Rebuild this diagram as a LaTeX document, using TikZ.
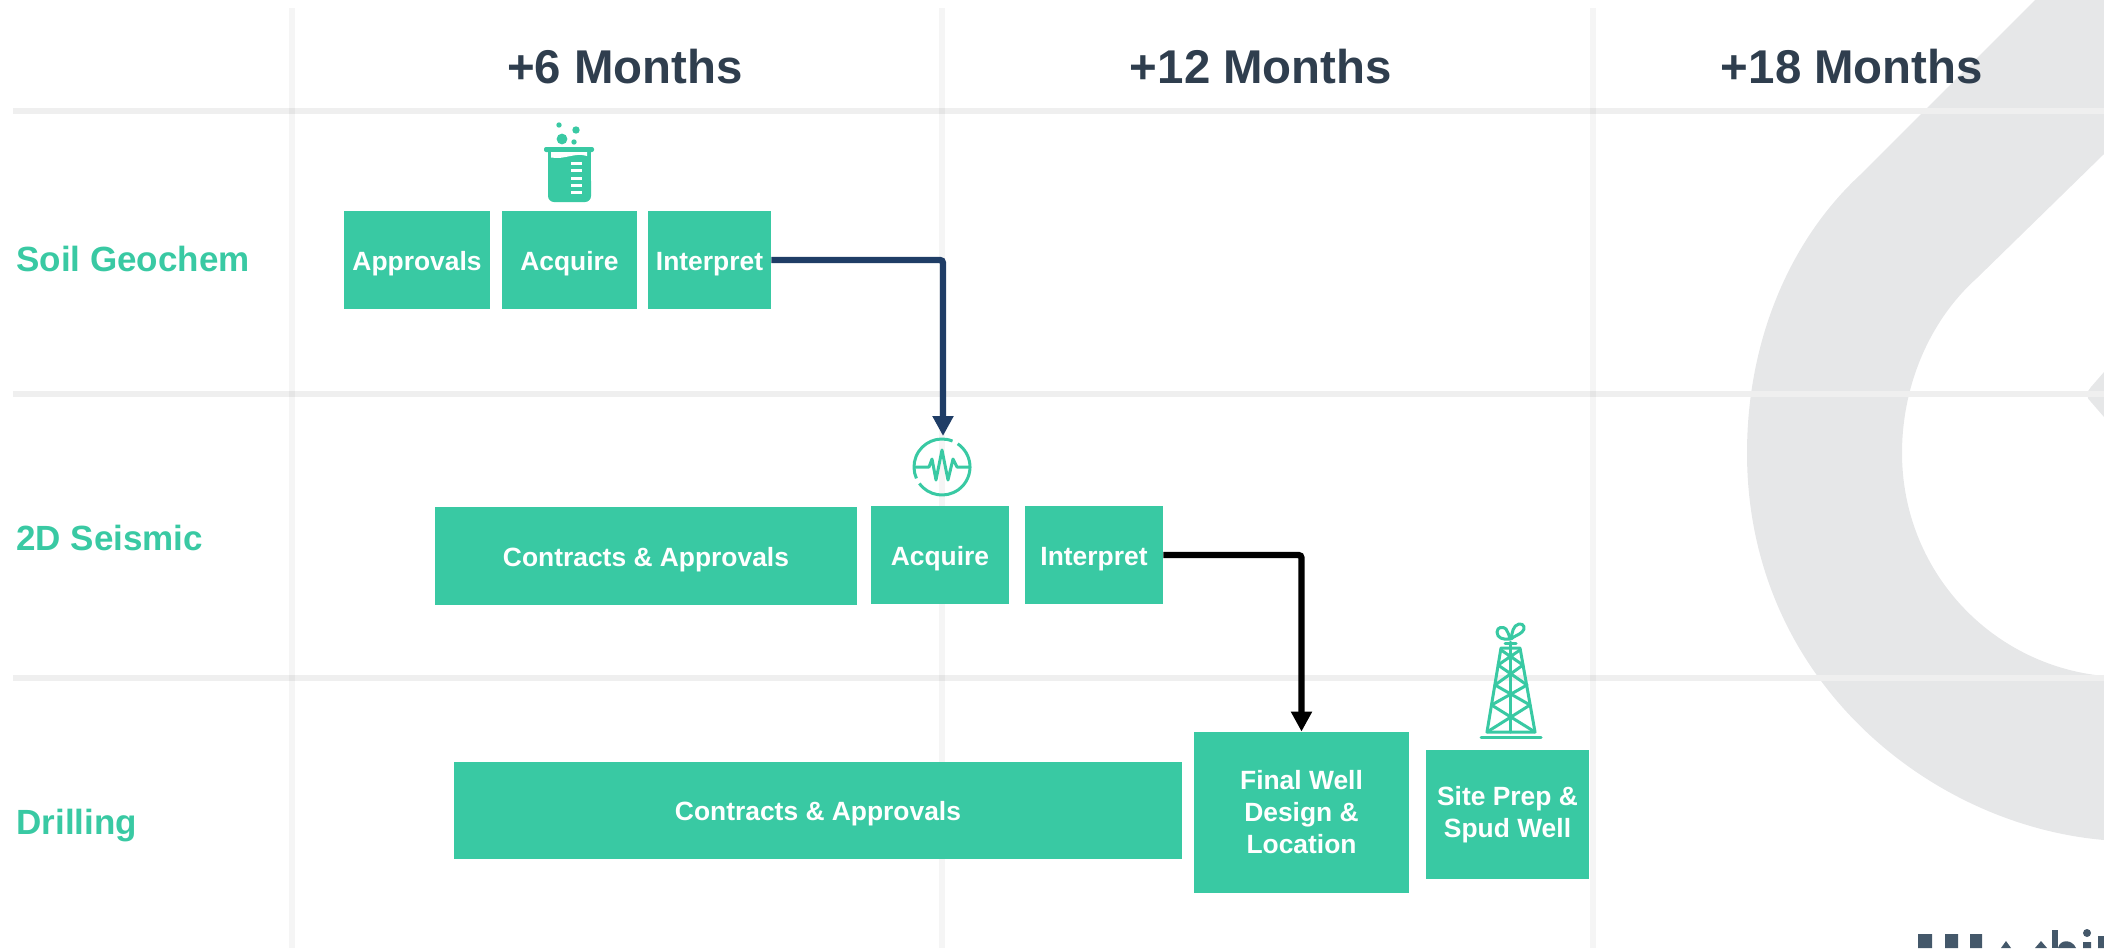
\documentclass[tikz,border=0pt]{standalone}
\usepackage{fontspec}
\setmainfont{Liberation Sans}
\usetikzlibrary{arrows.meta}
\definecolor{teal}{HTML}{39C9A3}
\definecolor{slate}{HTML}{2F3E4E}
\definecolor{logogray}{HTML}{E6E7E8}
\definecolor{gridc}{HTML}{EFEFEF}
\definecolor{navy}{HTML}{1F3D66}
\definecolor{logotext}{HTML}{44586A}
\tikzset{
  x=0.5pt,y=-0.5pt,
  gridh/.style={draw=gridc,line width=3pt},
  gridv/.style={draw=black,opacity=0.04,line width=3pt},
  task/.style={fill=teal,text=white,inner sep=0pt,align=center,
    font=\fontsize{13.2}{16}\selectfont\bfseries},
  oneline/.style={text height=12pt,text depth=1.9pt},
  head/.style={text=slate,font=\fontsize{23.7}{28}\selectfont\bfseries,inner sep=0pt},
  rowlabel/.style={text=teal,anchor=west,font=\fontsize{17.5}{21}\selectfont\bfseries,inner sep=0pt},
  link/.style={line width=3.2pt,-{Triangle[length=10pt,width=10pt]},rounded corners=1.5pt},
  iconline/.style={draw=teal,line width=1.5pt,line cap=round,line join=round},
}
\newcommand{\taskbox}[7][]{% options, name, x0, y0, x1, y1, text
  \pgfmathsetmacro{\tw}{(#5-#3)*0.5}\pgfmathsetmacro{\th}{(#6-#4)*0.5}
  \node[task,#1,minimum width=\tw pt,minimum height=\th pt] (#2) at ({(#3+#5)/2},{(#4+#6)/2}) {#7};}
\begin{document}
\begin{tikzpicture}
\useasboundingbox (0,0) rectangle (2104,948);
% watermark logo
\fill[logogray] (2035,0) -- (1860,175) .. controls (1790,240) and (1747,340) .. (1747,453)
  .. controls (1747,680) and (1930,825) .. (2104,840)
  -- (2104,676) .. controls (1990,665) and (1902,570) .. (1902,453)
  .. controls (1902,385) and (1930,320) .. (1977,278) -- (2104,154) -- (2104,0) -- cycle;
\fill[logogray] (2104,372) -- (2091,387) .. controls (2086,392) and (2086,398) .. (2091,402) -- (2104,417) -- cycle;
% logo fragment
\fill[logotext] (1918,934) rectangle (1932,948) (1945,934) rectangle (1958,948) (1970,934) rectangle (1982,948);
\fill[logotext] (2001,948) -- (2006,941) -- (2011,948) -- cycle (2035,948) -- (2041,941) -- (2047,948) -- cycle;
\fill[logotext] (2052,930) rectangle (2058,948);
\fill[logotext] (2058,948) .. controls (2060,939) and (2072,939) .. (2076,948) -- cycle;
\fill[logotext] (2087,933) circle[radius=2pt] (2083,942) rectangle (2091,948) (2098,936) rectangle (2104,948);
% grid
\foreach \gy in {111,394,678} \draw[gridh] (13,\gy) -- (2104,\gy);
\foreach \gx in {292,942,1593} \draw[gridv] (\gx,8) -- (\gx,948);
% headers
\node[head] (h1) at (625,67) {+6 Months};
\node[head] (h2) at (1261,67) {+12 Months};
\node[head] (h3) at (1852,67) {+18 Months};
\node[rowlabel] (r1) at (16,259) {Soil Geochem};
\node[rowlabel] (r2) at (16,538) {2D Seismic};
\node[rowlabel] (r3) at (16,826) {Drilling};
% tasks
\taskbox[oneline]{a1}{344}{211}{490}{309}{Approvals}
\taskbox[oneline]{a2}{502}{211}{637}{309}{Acquire}
\taskbox[oneline]{a3}{648}{211}{771}{309}{Interpret}
\taskbox[oneline]{b1}{435}{507}{857}{605}{Contracts \& Approvals}
\taskbox[oneline]{b2}{871}{506}{1009}{604}{Acquire}
\taskbox[oneline]{b3}{1025}{506}{1163}{604}{Interpret}
\taskbox[oneline]{c1}{454}{762}{1182}{859}{Contracts \& Approvals}
\taskbox{c2}{1194}{732}{1409}{893}{Final Well\\Design \&\\Location}
\taskbox{c3}{1426}{750}{1589}{879}{Site Prep \&\\Spud Well}
% connectors
\coordinate (seis) at (943,436);
\draw[link,navy] (a3.east) -| (seis);
\draw[link,black] (b3.east) -| (c2.north);
% beaker icon
\fill[teal] (548,150) rectangle (591,190);
\fill[teal,rounded corners=3pt] (548,175) rectangle (591,202);
\fill[teal,rounded corners=1pt] (544,147) rectangle (594,152);
\fill[white] (551,152) -- (587,152) -- (587,156) .. controls (575,152) and (565,160) .. (551,157.5) -- cycle;
\foreach \ty in {162,169,177,184,191} \fill[white] (571,\ty) rectangle (582,{\ty+3.3});
\fill[teal] (562,139) circle[radius=2.7pt] (576,130) circle[radius=1.85pt] (559,125) circle[radius=1.35pt] (574,142) circle[radius=1.35pt];
% seismic icon
\draw[iconline,line cap=butt] ({942+28*cos(68)},{467-28*sin(68)}) arc[start angle=68,end angle=204,radius=14pt];
\draw[iconline,line cap=butt] ({942+28*cos(216)},{467-28*sin(216)}) arc[start angle=216,end angle=416,radius=14pt];
\draw[iconline] (915,467) -- (929,467) -- (932,459) -- (936,480) -- (942,450) -- (948,480) -- (953,459) -- (957,467) -- (970,467);
% derrick icon
\draw[iconline] (1481,737) -- (1541,737);
\draw[iconline] (1487,732) -- (1501,648) -- (1520,648) -- (1535,732) -- cycle;
\draw[iconline] (1510,642) -- (1510,732);
\draw[iconline] (1505,643) -- (1516,643);
\draw[iconline] (1487,732) -- (1530,705) (1535,732) -- (1491.5,705)
  (1491.5,705) -- (1527,685) (1530,705) -- (1495,685)
  (1495,685) -- (1523,665) (1527,685) -- (1498,665)
  (1498,665) -- (1520,650) (1523,665) -- (1501,650);
\draw[iconline] (1510,639) .. controls (1503,640) and (1497,638) .. (1497,632) .. controls (1497,627) and (1503,626) .. (1506,629) .. controls (1508,632) and (1509,635) .. (1510,639);
\draw[iconline] (1511,639) .. controls (1512,633) and (1513,625) .. (1519,624) .. controls (1524,623) and (1526,629) .. (1522,632) .. controls (1519,635) and (1514,636) .. (1511,639);
\end{tikzpicture}
\end{document}
